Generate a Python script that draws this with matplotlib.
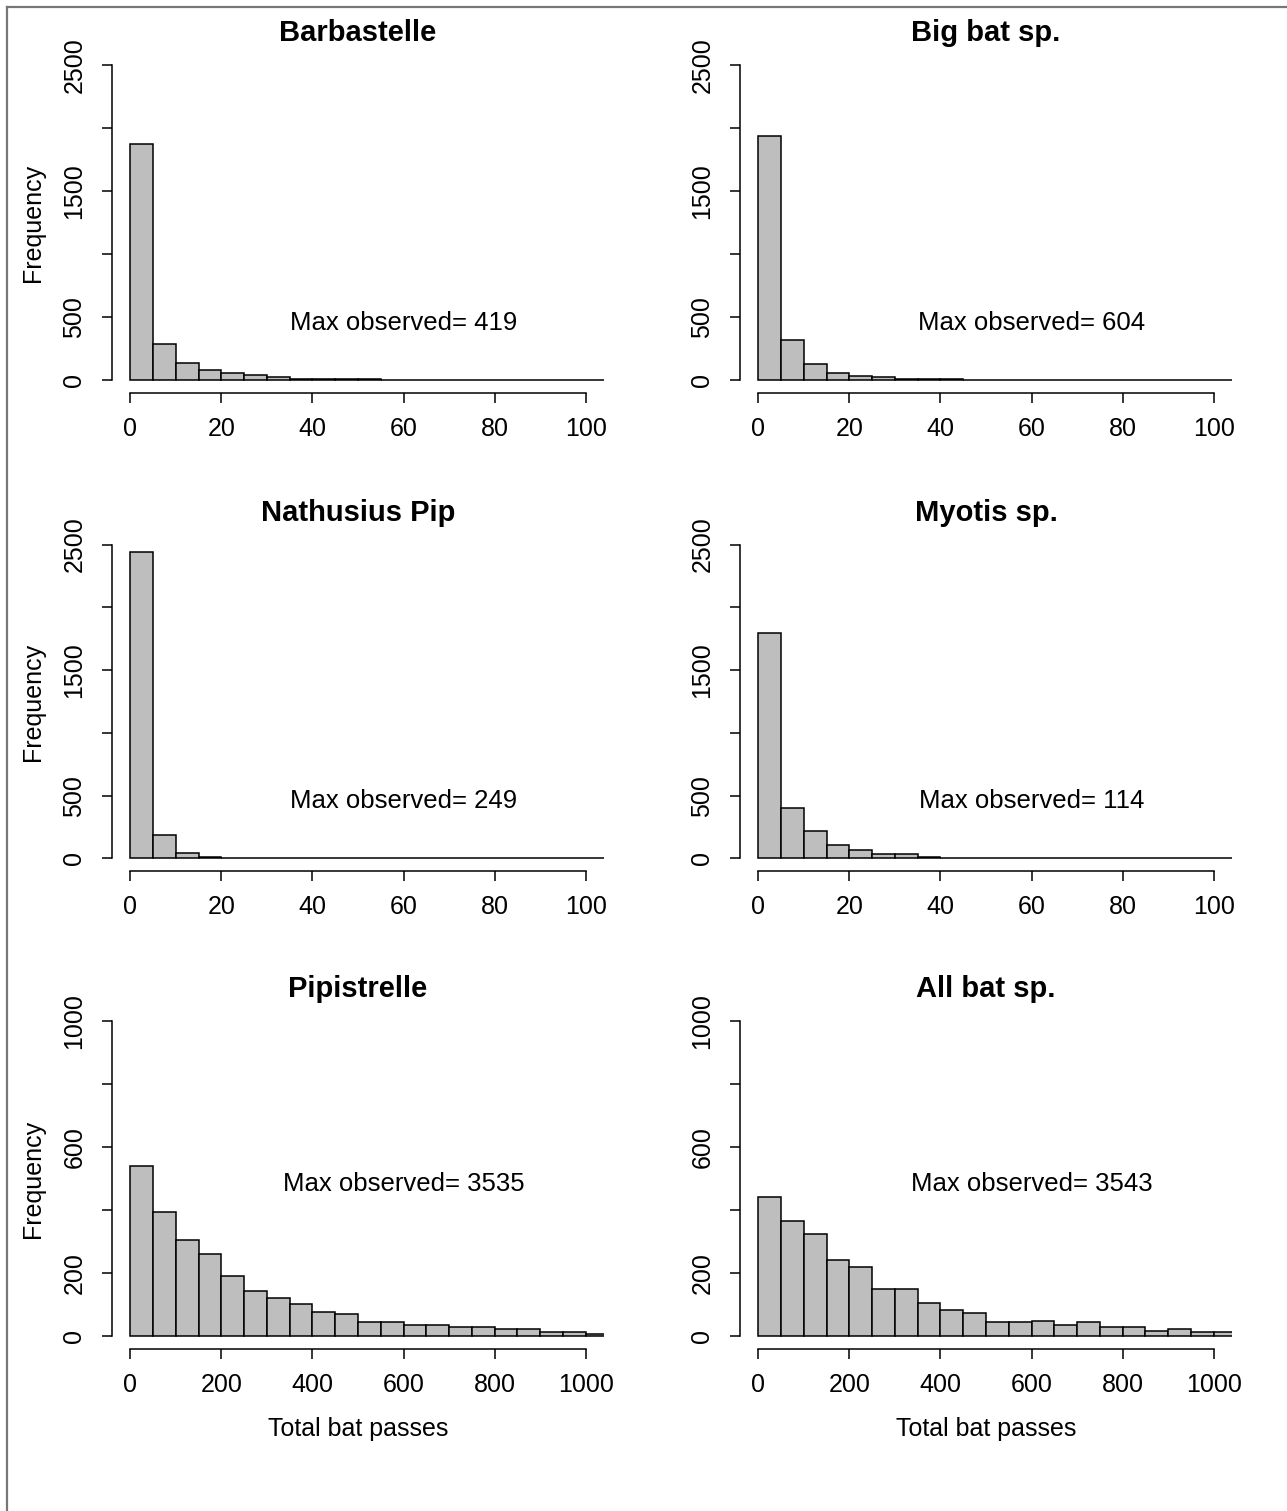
import matplotlib
matplotlib.use("Agg")
import matplotlib.pyplot as plt
from matplotlib.lines import Line2D
import numpy as np

plt.rcParams['font.family'] = ['Liberation Sans', 'DejaVu Sans']

# ---- data -------------------------------------------------------------
titles = ["Barbastelle", "Big bat sp.", "Nathusius Pip", "Myotis sp.",
          "Pipistrelle", "All bat sp."]
max_observed = [419, 604, 249, 114, 3535, 3543]

# counts per bin; small-range panels use 5-pass bins from 0, wide-range 50-pass bins
small_bin_width = 5
wide_bin_width = 50

barbastelle = [1870, 290, 140, 85, 61, 40, 30, 13, 12, 8, 7, 6, 6, 6, 5, 0, 6, 6, 5, 0, 0]
big_bat = [1935, 320, 133, 61, 37, 27, 13, 12, 7, 6, 6, 6, 5, 5, 5, 0, 0, 0, 0, 0, 0]
nathusius = [2440, 185, 41, 8, 7, 6, 6, 0, 0, 0, 0, 0, 0, 0, 0, 0, 0, 0, 0, 0, 0]
myotis = [1795, 400, 216, 104, 69, 35, 38, 8, 7, 7, 6, 6, 6, 5, 0, 0, 0, 0, 0, 0, 0]
pipistrelle = [540, 394, 305, 261, 191, 144, 122, 104, 76, 72, 44, 44, 35, 35,
               29, 29, 22, 22, 15, 14, 9]
all_bats = [442, 365, 324, 242, 220, 151, 151, 105, 83, 73, 47, 47, 50, 36,
            45, 31, 31, 18, 23, 13, 15]

series = [barbastelle, big_bat, nathusius, myotis, pipistrelle, all_bats]

small_xticks = [0, 20, 40, 60, 80, 100]
wide_xticks = [0, 200, 400, 600, 800, 1000]
small_yticks = [0, 500, 1000, 1500, 2000, 2500]
small_ylabels = ["0", "500", "", "1500", "", "2500"]
wide_yticks = [0, 200, 400, 600, 800, 1000]
wide_ylabels = ["0", "200", "", "600", "", "1000"]

# ---- figure -----------------------------------------------------------
W, H = 1287, 1511
fig = plt.figure(figsize=(W / 100, H / 100), dpi=100)
fig.patch.set_facecolor("white")

def fx(px):
    return px / W

def fy(py):
    return 1 - py / H

# panel rectangles in pixels: (left, top, right, bottom)
col_lr = [(112, 604), (740, 1232)]
row_tb = [(52, 393), (532, 871), (1008, 1349)]

FS = 18
for i, counts in enumerate(series):
    r, c = divmod(i, 2)
    l, rr = col_lr[c]
    t, b = row_tb[r]
    ax = fig.add_axes([fx(l), fy(b), fx(rr - l), (b - t) / H])
    wide = r == 2
    bw = wide_bin_width if wide else small_bin_width
    edges = np.arange(len(counts)) * bw
    ax.bar(edges, counts, width=bw, align="edge", color="#bebebe",
           edgecolor="black", linewidth=1.1, clip_on=True)
    if wide:
        ax.set_xlim(-40, 1040)
        ax.set_ylim(-40, 1040)
        ax.set_xticks(wide_xticks)
        ax.set_xticklabels([str(v) for v in wide_xticks])
        ax.set_yticks(wide_yticks)
        ax.set_yticklabels(wide_ylabels, rotation=90, va="center")
        ax.spines["bottom"].set_bounds(0, 1000)
        ax.spines["left"].set_bounds(0, 1000)
        ax.text(600, 482, f"Max observed= {max_observed[i]}", ha="center",
                va="center", fontsize=18.5)
    else:
        ax.set_xlim(-4, 104)
        ax.set_ylim(-100, 2600)
        ax.set_xticks(small_xticks)
        ax.set_yticks(small_yticks)
        ax.set_xticklabels([str(v) for v in small_xticks])
        ax.set_yticklabels(small_ylabels, rotation=90, va="center")
        ax.spines["bottom"].set_bounds(0, 100)
        ax.spines["left"].set_bounds(0, 2500)
        ax.text(60, 455, f"Max observed= {max_observed[i]}", ha="center",
                va="center", fontsize=18.5)
    for s in ("top", "right"):
        ax.spines[s].set_visible(False)
    for s in ("left", "bottom"):
        ax.spines[s].set_linewidth(1.1)
    ax.tick_params(axis="both", direction="out", length=7.5, width=1.1,
                   labelsize=FS, pad=10)
    ax.tick_params(axis="y", pad=11)
    ax.set_facecolor("none")

    # panel title
    fig.text(fx((l + rr) / 2), fy(t - 19), titles[i], ha="center", va="center",
             fontsize=21, fontweight="bold")
    # y label on the left column
    if c == 0:
        fig.text(fx(33), fy((t + b) / 2), "Frequency", rotation=90,
                 ha="center", va="center", fontsize=FS)
    # x label on the bottom row
    if wide:
        fig.text(fx((l + rr) / 2), fy(1429), "Total bat passes",
                 ha="center", va="center", fontsize=FS)

# outer frame (left and top edges)
fig.add_artist(Line2D([fx(7), fx(7)], [fy(7), 0], transform=fig.transFigure,
                      color="#777777", linewidth=1.6))
fig.add_artist(Line2D([fx(7), 1], [fy(7), fy(7)], transform=fig.transFigure,
                      color="#777777", linewidth=1.6))

fig.savefig("out.png", dpi=100, facecolor="white")
